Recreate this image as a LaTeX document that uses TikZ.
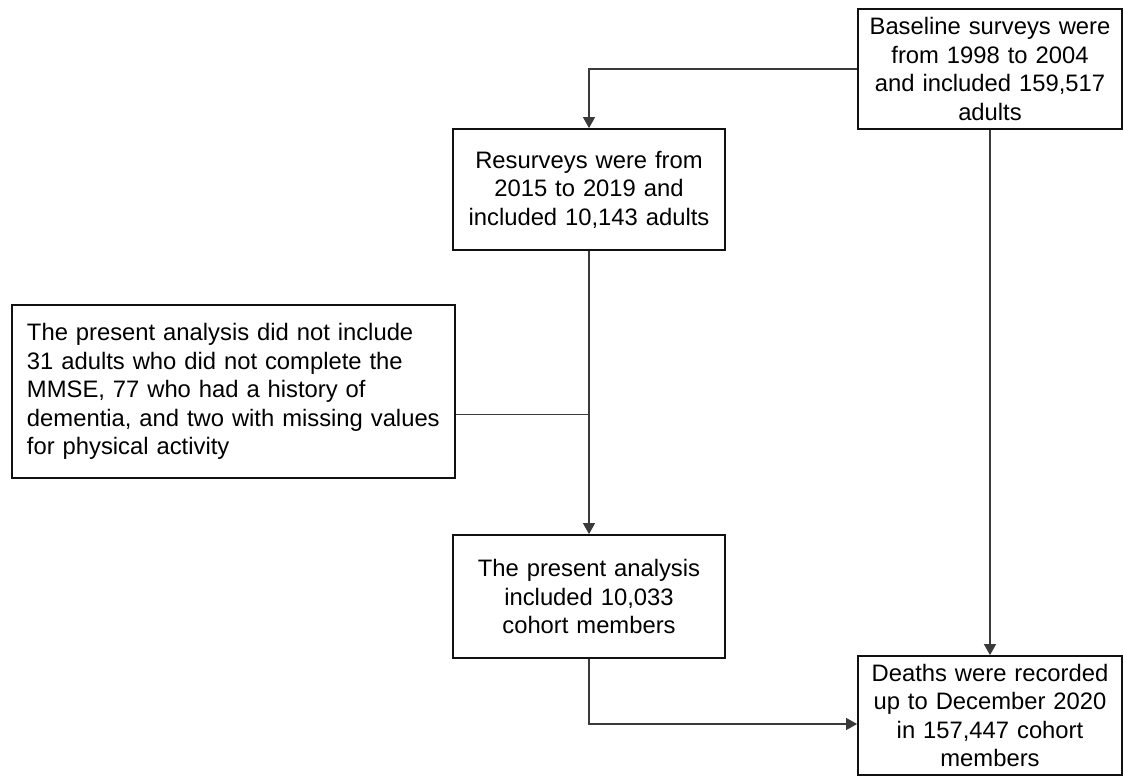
\documentclass[tikz,border=0pt]{standalone}
\usepackage{fontspec}
\setmainfont{Liberation Sans}
\usetikzlibrary{arrows.meta, positioning, calc}
\definecolor{boxline}{HTML}{111111}
\definecolor{edgegray}{HTML}{3A3A3A}

\begin{document}
\begin{tikzpicture}[
    x=1pt, y=-1pt,
    >={Triangle[length=11pt, width=12pt]},
    % ── shared styles ──
    stage box/.style={draw=boxline, line width=1.8pt, fill=white,
        font=\fontsize{23.8pt}{28.5pt}\selectfont, align=center,
        inner xsep=7pt, inner ysep=0pt, text width=#1},
    note box/.style={draw=boxline, line width=1.8pt, fill=white,
        font=\fontsize{23.8pt}{28.5pt}\selectfont, align=left,
        inner xsep=15pt, inner ysep=0pt, text width=#1},
    flow arrow/.style={->, draw=edgegray, line width=1.2pt},
    side link/.style={draw=edgegray, line width=1.2pt},
]

% ══════════════════════════════════════════════════════════════════════
%  CANVAS
% ══════════════════════════════════════════════════════════════════════
\useasboundingbox (0,0) rectangle (1124,776);

% ══════════════════════════════════════════════════════════════════════
%  STAGE BOXES
% ══════════════════════════════════════════════════════════════════════
\node[stage box=250pt, minimum height=120pt] (base) at (990,69)
    {Baseline surveys were\\from 1998 to 2004\\and included 159,517\\adults};
\node[stage box=258pt, minimum height=121pt] (resv) at (589,189.5)
    {Resurveys were from\\2015 to 2019 and\\included 10,143 adults};
\node[note box=413pt, minimum height=173pt] (excl) at (233.5,391.5)
    {The present analysis did not include\\31 adults who did not complete the\\MMSE, 77 who had a history of\\dementia, and two with missing values\\for physical activity};
\node[stage box=258pt, minimum height=123pt] (incl) at (589,596.5)
    {The present analysis\\included 10,033\\cohort members};
\node[stage box=250pt, minimum height=119pt] (death) at (990,715.5)
    {Deaths were recorded\\up to December 2020\\in 157,447 cohort\\members};

% ══════════════════════════════════════════════════════════════════════
%  CONNECTORS
% ══════════════════════════════════════════════════════════════════════
\coordinate (exjoin) at ($(excl.north east)!0.63!(excl.south east)$);
\coordinate (dentry) at (death.west |- 0,724);

\draw[flow arrow] (base.west) -| (resv.north);
\draw[flow arrow] (base.south) -- (death.north);
\draw[flow arrow] (resv.south) -- (incl.north);
\draw[side link] (exjoin) -- (exjoin -| resv.south);
\draw[flow arrow] (incl.south) |- (dentry);

\end{tikzpicture}
\end{document}
